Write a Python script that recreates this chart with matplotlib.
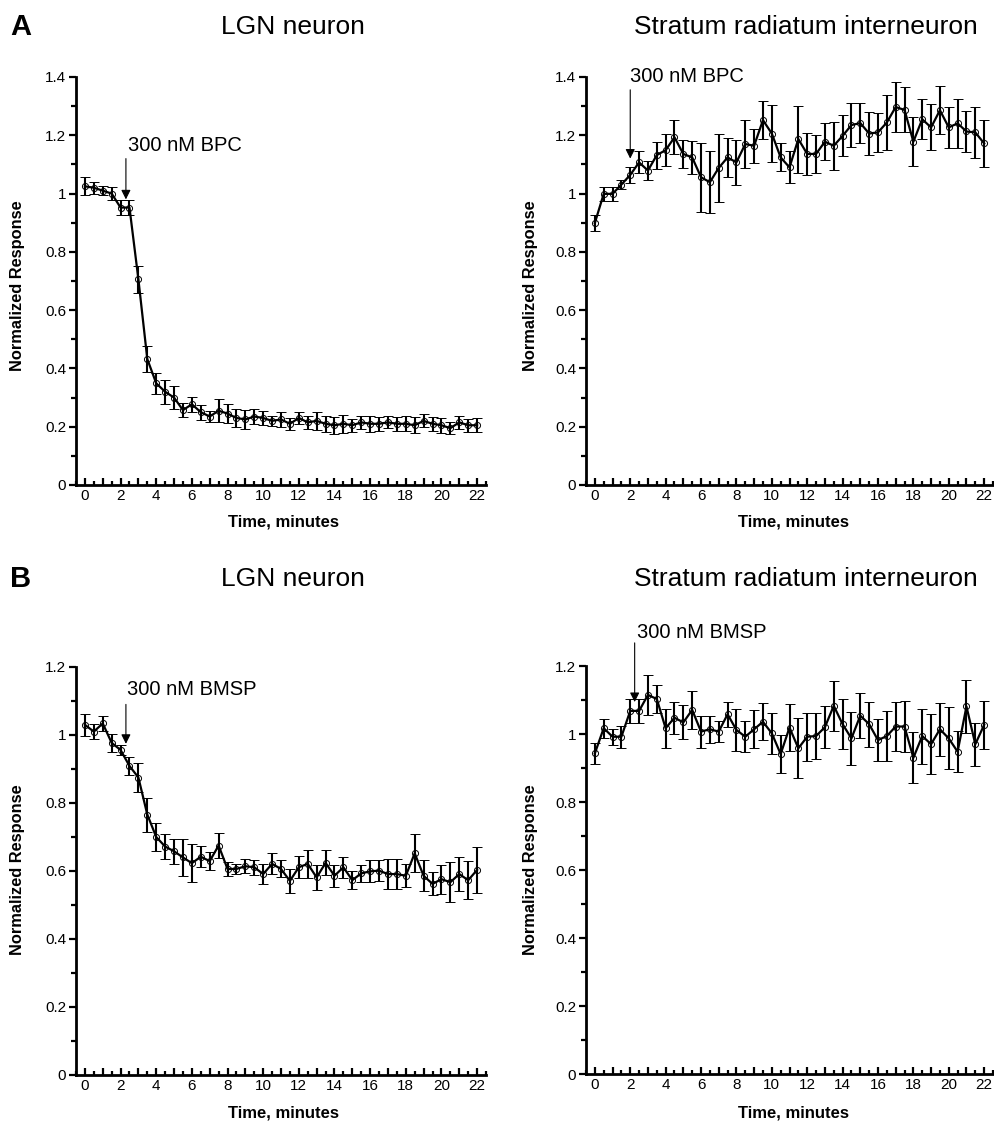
import numpy as np
import matplotlib
matplotlib.use("Agg")
import matplotlib.pyplot as plt
from matplotlib.ticker import MultipleLocator, FixedLocator, FuncFormatter

plt.rcParams['font.family'] = ['Liberation Sans', 'DejaVu Sans']

# ---------------- data ----------------
time_min = np.arange(0, 22.5, 0.5)

a_lgn_mean = [1.025, 1.02, 1.01, 1.0, 0.952, 0.952, 0.706, 0.432, 0.349, 0.32, 0.30, 0.257, 0.277, 0.25, 0.235,
              0.255, 0.245, 0.23, 0.225, 0.235, 0.23, 0.22, 0.225, 0.21, 0.23, 0.215, 0.22, 0.21, 0.205, 0.21,
              0.205, 0.215, 0.21, 0.21, 0.215, 0.21, 0.21, 0.205, 0.22, 0.21, 0.205, 0.195, 0.215, 0.205, 0.205]
a_lgn_sem = [0.031, 0.021, 0.015, 0.021, 0.026, 0.026, 0.047, 0.044, 0.037, 0.041, 0.038, 0.023, 0.025, 0.026, 0.02,
             0.039, 0.033, 0.031, 0.032, 0.027, 0.025, 0.017, 0.025, 0.02, 0.02, 0.023, 0.03, 0.027, 0.029, 0.03,
             0.023, 0.022, 0.028, 0.025, 0.021, 0.024, 0.026, 0.027, 0.022, 0.025, 0.025, 0.02, 0.022, 0.023, 0.024]

a_sr_mean = [0.899, 0.999, 0.999, 1.031, 1.064, 1.107, 1.079, 1.132, 1.149, 1.193, 1.136, 1.124, 1.056, 1.039, 1.088,
             1.124, 1.107, 1.170, 1.164, 1.252, 1.206, 1.124, 1.090, 1.187, 1.136, 1.136, 1.178, 1.164, 1.198, 1.235,
             1.242, 1.206, 1.210, 1.244, 1.297, 1.287, 1.178, 1.255, 1.227, 1.286, 1.227, 1.241, 1.213, 1.210, 1.172]
a_sr_sem = [0.027, 0.023, 0.025, 0.015, 0.028, 0.038, 0.033, 0.046, 0.054, 0.058, 0.048, 0.057, 0.118, 0.106, 0.117,
            0.068, 0.076, 0.082, 0.058, 0.064, 0.098, 0.048, 0.055, 0.115, 0.073, 0.065, 0.064, 0.083, 0.070, 0.075,
            0.070, 0.074, 0.068, 0.095, 0.085, 0.077, 0.084, 0.068, 0.079, 0.082, 0.071, 0.084, 0.070, 0.087, 0.082]

b_lgn_mean = [1.030, 1.010, 1.034, 0.977, 0.956, 0.909, 0.875, 0.766, 0.700, 0.672, 0.658, 0.640, 0.623, 0.642, 0.629,
              0.675, 0.606, 0.606, 0.614, 0.611, 0.591, 0.621, 0.606, 0.571, 0.611, 0.621, 0.581, 0.624, 0.586, 0.611,
              0.573, 0.593, 0.599, 0.601, 0.591, 0.591, 0.586, 0.652, 0.586, 0.562, 0.576, 0.567, 0.591, 0.573, 0.603]
b_lgn_sem = [0.032, 0.022, 0.022, 0.027, 0.015, 0.026, 0.043, 0.05, 0.04, 0.038, 0.036, 0.054, 0.056, 0.031, 0.027,
             0.036, 0.02, 0.015, 0.021, 0.022, 0.029, 0.031, 0.025, 0.036, 0.032, 0.042, 0.036, 0.037, 0.033, 0.031,
             0.026, 0.026, 0.032, 0.031, 0.045, 0.045, 0.034, 0.056, 0.045, 0.034, 0.043, 0.059, 0.049, 0.056, 0.069]

b_sr_mean = [0.943, 1.017, 0.992, 0.992, 1.068, 1.068, 1.115, 1.103, 1.017, 1.048, 1.034, 1.071, 1.007, 1.014, 1.007,
             1.058, 1.012, 0.992, 1.014, 1.036, 1.002, 0.941, 1.019, 0.958, 0.992, 0.994, 1.020, 1.083, 1.029, 0.987,
             1.054, 1.029, 0.982, 0.994, 1.022, 1.022, 0.930, 0.994, 0.970, 1.014, 0.987, 0.948, 1.081, 0.970, 1.027]
b_sr_sem = [0.032, 0.028, 0.024, 0.033, 0.035, 0.035, 0.059, 0.042, 0.058, 0.047, 0.05, 0.055, 0.047, 0.04, 0.031,
            0.037, 0.061, 0.046, 0.056, 0.055, 0.061, 0.055, 0.069, 0.088, 0.071, 0.067, 0.061, 0.074, 0.073, 0.079,
            0.067, 0.066, 0.061, 0.074, 0.071, 0.075, 0.075, 0.081, 0.088, 0.078, 0.091, 0.061, 0.079, 0.063, 0.070]

panel_letters = ["A", "B"]
titles = ["LGN neuron", "Stratum radiatum interneuron"]
drug_labels = ["300 nM BPC", "300 nM BMSP"]
x_label = "Time, minutes"
y_label = "Normalized Response"

# ---------------- figure ----------------
W, H = 995, 1122
fig = plt.figure(figsize=(W / 100, H / 100), dpi=100)


def rect(x0, y_bottom, w, h):
    return [x0 / W, (H - y_bottom) / H, w / W, h / H]


panels = [
    dict(rect=rect(76, 485, 410, 408), mean=a_lgn_mean, sem=a_lgn_sem, ymax=1.4,
         arrow=(2.3, 1.12, 0.98), text=(2.42, 1.145, drug_labels[0])),
    dict(rect=rect(586, 485, 407, 408), mean=a_sr_mean, sem=a_sr_sem, ymax=1.4,
         arrow=(2.0, 1.356, 1.12), text=(1.96, 1.383, drug_labels[0])),
    dict(rect=rect(76, 1075, 410, 408), mean=b_lgn_mean, sem=b_lgn_sem, ymax=1.2,
         arrow=(2.3, 1.09, 0.974), text=(2.36, 1.118, drug_labels[1])),
    dict(rect=rect(586, 1074, 407, 408), mean=b_sr_mean, sem=b_sr_sem, ymax=1.2,
         arrow=(2.25, 1.268, 1.094), text=(2.4, 1.282, drug_labels[1])),
]

xtick_major = np.arange(0, 23, 1)
xtick_labels = [str(int(v)) if int(v) % 2 == 0 else "" for v in xtick_major]

for p in panels:
    ax = fig.add_axes(p["rect"])
    ax.errorbar(time_min, p["mean"], yerr=p["sem"], color="black", lw=1.6,
                elinewidth=1.5, capsize=3.5, capthick=1.5,
                marker="o", markersize=4.4, mfc="none", mec="black", mew=0.7, zorder=3)
    ax.set_xlim(-0.5, 22.5)
    ax.set_ylim(0, p["ymax"])
    for s in ["top", "right"]:
        ax.spines[s].set_visible(False)
    for s in ["left", "bottom"]:
        ax.spines[s].set_linewidth(2.0)
    ax.xaxis.set_major_locator(FixedLocator(xtick_major))
    ax.set_xticklabels(xtick_labels)
    ax.xaxis.set_minor_locator(MultipleLocator(0.5))
    ax.yaxis.set_major_locator(MultipleLocator(0.2))
    ax.yaxis.set_minor_locator(MultipleLocator(0.1))
    ax.yaxis.set_major_formatter(FuncFormatter(lambda v, pos: "%g" % round(v, 2)))
    ax.tick_params(axis="x", which="major", direction="in", length=5, width=1.6, labelsize=11, pad=3)
    ax.tick_params(axis="x", which="minor", direction="in", length=3, width=1.6)
    ax.tick_params(axis="y", which="major", direction="out", length=5, width=1.6, labelsize=11, pad=2)
    ax.tick_params(axis="y", which="minor", direction="out", length=3.5, width=1.6)
    ax.set_facecolor("none")

    ax_x, y0, y1 = p["arrow"]
    ax.annotate("", xy=(ax_x, y1), xytext=(ax_x, y0), annotation_clip=False,
                arrowprops=dict(arrowstyle="-|>", color="black", lw=0.8,
                                mutation_scale=14, shrinkA=0, shrinkB=0))
    tx, ty, tlabel = p["text"]
    ax.text(tx, ty, tlabel, fontsize=14.5, ha="left", va="baseline", clip_on=False)

# panel letters and titles
for letter, yc in zip(panel_letters, [27, 579]):
    fig.text(21 / W, 1 - yc / H, letter, fontsize=21, fontweight="bold", ha="center", va="center")
    fig.text(293 / W, 1 - yc / H, titles[0], fontsize=19, ha="center", va="center")
    fig.text(806 / W, 1 - yc / H, titles[1], fontsize=19, ha="center", va="center")

# axis labels
for yc_ylabel, yc_xlabel in [(286, 522), (870, 1113)]:
    fig.text(18 / W, 1 - yc_ylabel / H, y_label, fontsize=11.8, fontweight="bold",
             rotation=90, ha="center", va="center")
    fig.text(531 / W, 1 - yc_ylabel / H, y_label, fontsize=11.8, fontweight="bold",
             rotation=90, ha="center", va="center")
    fig.text(283 / W, 1 - yc_xlabel / H, x_label, fontsize=12, fontweight="bold", ha="center", va="center")
    fig.text(794 / W, 1 - yc_xlabel / H, x_label, fontsize=12, fontweight="bold", ha="center", va="center")

fig.savefig("out.png", dpi=100)
